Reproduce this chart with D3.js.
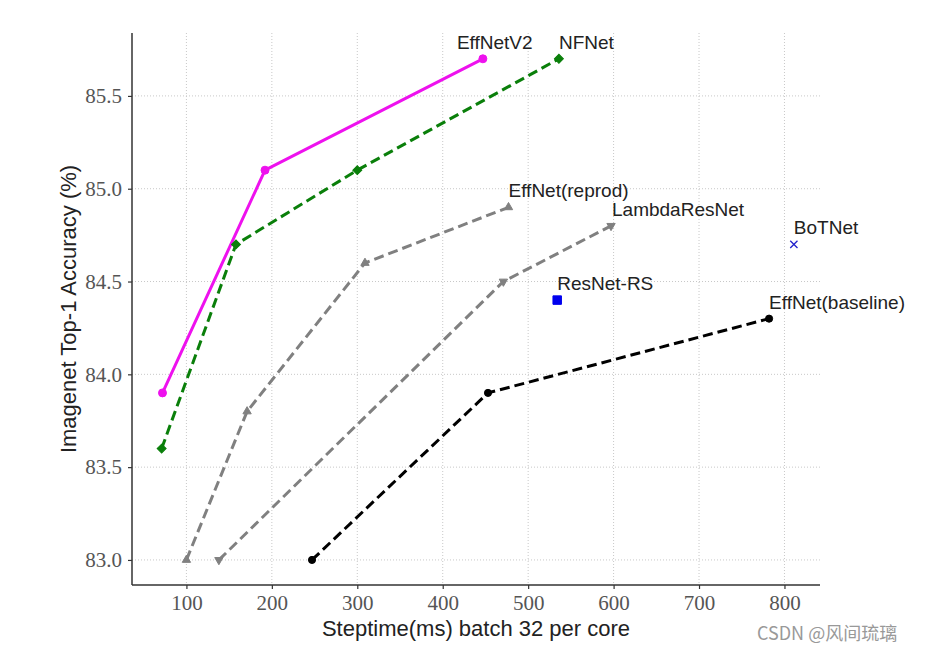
<!DOCTYPE html>
<html>
<head>
<meta charset="utf-8">
<script src="https://cdn.jsdelivr.net/npm/d3@7"></script>
<style>
  body { margin: 0; background: #fff; }
  #chart svg { display: block; }
</style>
</head>
<body>
<div id="chart"></div>
<script>
// Model names and their (steptime, accuracy) points
var models = ["EffNetV2", "NFNet", "EffNet(reprod)", "LambdaResNet", "ResNet-RS", "BoTNet", "EffNet(baseline)"];

var steptime = [
    [72, 192, 447],
    [71, 158, 300, 536],
    [100, 171, 309, 477],
    [138, 471, 597],
    [534],
    [811],
    [247, 453, 782]
];

var accuracy = [
    [83.9, 85.1, 85.7],
    [83.6, 84.7, 85.1, 85.7],
    [83.0, 83.8, 84.6, 84.9],
    [83.0, 84.5, 84.8],
    [84.4],
    [84.7],
    [83.0, 83.9, 84.3]
];

var xTicks = [100, 200, 300, 400, 500, 600, 700, 800];
var yTicks = [83.0, 83.5, 84.0, 84.5, 85.0, 85.5];

// Styling per model (colour, dash, marker)
var styles = {
    "EffNetV2":         {color: "#ee11ee", dash: null,   symbol: d3.symbolCircle,   size: 50, dx: -26},
    "NFNet":            {color: "#0a7f0a", dash: "10,5", symbol: d3.symbolSquare,   size: 40, dx: 0, rotate: 45},
    "EffNet(reprod)":   {color: "#808080", dash: "10,5", symbol: d3.symbolTriangle, size: 30, dx: 0},
    "LambdaResNet":     {color: "#808080", dash: "10,5", symbol: d3.symbolTriangle, size: 30, dx: 1, rotate: 180},
    "ResNet-RS":        {color: "#0000ee", dash: null,   symbol: d3.symbolSquare,   size: 72, dx: 0},
    "BoTNet":           {color: "#2222cc", dash: null,   symbol: d3.symbolX,        size: 36, dx: 0, stroke: true},
    "EffNet(baseline)": {color: "#000000", dash: "10,5", symbol: d3.symbolCircle,   size: 40, dx: 0}
};

var W = 929, H = 652;
var margin = {left: 132, top: 33, right: 109, bottom: 67},
    width = W - margin.left - margin.right,
    height = H - margin.top - margin.bottom;

var svg = d3.select("#chart")
    .append("svg")
    .attr("width", W)
    .attr("height", H);

var g = svg.append("g")
    .attr("transform", "translate(" + margin.left + "," + margin.top + ")");

var x = d3.scaleLinear().domain([36.3, 841.6]).range([0, width]);
var y = d3.scaleLinear().domain([82.865, 85.839]).range([height, 0]);

//Dotted grid
g.append("g").selectAll("line")
    .data(xTicks)
    .enter().append("line")
    .attr("x1", function(d) { return x(d); })
    .attr("x2", function(d) { return x(d); })
    .attr("y1", 0)
    .attr("y2", height)
    .attr("stroke", "#c8c8c8")
    .attr("stroke-width", 1)
    .attr("stroke-dasharray", "1,2");

g.append("g").selectAll("line")
    .data(yTicks)
    .enter().append("line")
    .attr("x1", 0)
    .attr("x2", width)
    .attr("y1", function(d) { return y(d); })
    .attr("y2", function(d) { return y(d); })
    .attr("stroke", "#c8c8c8")
    .attr("stroke-width", 1)
    .attr("stroke-dasharray", "1,2");

//Axes
var xAxis = g.append("g")
    .attr("transform", "translate(0," + height + ")")
    .call(d3.axisBottom(x).tickValues(xTicks).tickSize(4).tickPadding(6).tickFormat(d3.format("d")));

var yAxis = g.append("g")
    .call(d3.axisLeft(y).tickValues(yTicks).tickSize(4).tickPadding(6).tickFormat(d3.format(".1f")));

[xAxis, yAxis].forEach(function(a) {
    a.select(".domain").attr("stroke", "#333").attr("stroke-width", 1.5);
    a.selectAll(".tick line").attr("stroke", "#333").attr("stroke-width", 1.2);
    a.selectAll(".tick text")
        .attr("font-family", "'Liberation Serif', serif")
        .attr("font-size", 21)
        .attr("fill", "#555");
});
xAxis.select(".domain").attr("d", "M0,0H" + width);
yAxis.select(".domain").attr("d", "M0," + height + "V0");

//Lines and markers
var line = d3.line()
    .x(function(d) { return x(d[0]); })
    .y(function(d) { return y(d[1]); });

models.forEach(function(name, i) {
    var s = styles[name];
    var pts = steptime[i].map(function(v, j) { return [v, accuracy[i][j]]; });

    if (pts.length > 1) {
        g.append("path")
            .datum(pts)
            .attr("fill", "none")
            .attr("stroke", s.color)
            .attr("stroke-width", 3)
            .attr("stroke-dasharray", s.dash)
            .attr("d", line);
    }

    g.append("g").selectAll("path")
        .data(pts)
        .enter().append("path")
        .attr("transform", function(d) {
            return "translate(" + x(d[0]) + "," + y(d[1]) + ")" + (s.rotate ? " rotate(" + s.rotate + ")" : "");
        })
        .attr("d", d3.symbol().type(s.symbol).size(s.size))
        .attr("fill", s.stroke ? "none" : s.color)
        .attr("stroke", s.color)
        .attr("stroke-width", s.stroke ? 1.3 : 1);

    //Name next to the last point
    var last = pts[pts.length - 1];
    g.append("text")
        .attr("x", x(last[0]) + s.dx)
        .attr("y", y(last[1]) - 10)
        .attr("font-family", "'Liberation Sans', Arial, sans-serif")
        .attr("font-size", 19)
        .attr("fill", "#222")
        .text(name);
});

//Axis titles
g.append("text")
    .attr("x", width / 2)
    .attr("y", height + 51)
    .attr("text-anchor", "middle")
    .attr("font-family", "'Liberation Sans', Arial, sans-serif")
    .attr("font-size", 22)
    .attr("fill", "#222")
    .text("Steptime(ms) batch 32 per core");

g.append("text")
    .attr("transform", "translate(-56," + (height / 2) + ") rotate(-90)")
    .attr("text-anchor", "middle")
    .attr("font-family", "'Liberation Sans', Arial, sans-serif")
    .attr("font-size", 22)
    .attr("fill", "#222")
    .text("Imagenet Top-1 Accuracy (%)");

//Watermark
svg.append("text")
    .attr("x", 757)
    .attr("y", 640)
    .attr("font-family", "'Noto Sans CJK SC', sans-serif")
    .attr("font-size", 18)
    .attr("fill", "#999")
    .text("CSDN @风间琉璃");
</script>
</body>
</html>
